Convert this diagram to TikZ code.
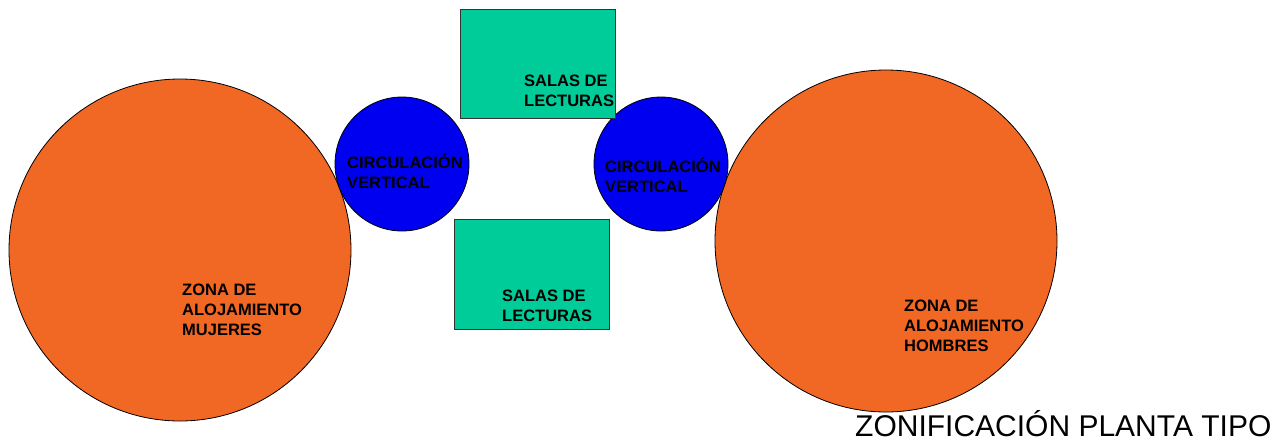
\documentclass[tikz,border=0pt]{standalone}
\usepackage{fontspec}
\setmainfont{Liberation Sans}
\definecolor{zonaorange}{RGB}{241,103,36}
\definecolor{circblue}{RGB}{0,0,240}
\definecolor{salagreen}{RGB}{0,204,153}
\begin{document}
\begin{tikzpicture}[x=1pt,y=-1pt,
  zona/.style={circle,draw=black,line width=0.8pt,fill=zonaorange,minimum size=342pt,inner sep=0pt},
  circ/.style={circle,draw=black,line width=0.8pt,fill=circblue,minimum size=134pt,inner sep=0pt},
  sala/.style={rectangle,draw=black!80,line width=0.8pt,fill=salagreen,inner sep=0pt,anchor=north west},
  lbl/.style={anchor=west,align=left,inner sep=0pt,font=\fontsize{16.5}{20}\selectfont\bfseries}]
\useasboundingbox (0,0) rectangle (1287,440);
% zones
\node[zona] (zm) at (180,250) {};
\node[zona] (zh) at (886,241) {};
% circulation
\node[circ] (cl) at (402,164) {};
\node[circ] (cr) at (661,164) {};
% reading rooms
\node[sala,minimum width=155pt,minimum height=109pt] (st) at (460,9) {};
\node[sala,minimum width=155pt,minimum height=110pt] (sb) at (454,219) {};
% labels
\node[lbl] (tzm) at (182,310) {ZONA DE\\ALOJAMIENTO\\MUJERES};
\node[lbl] (tzh) at (904,326) {ZONA DE\\ALOJAMIENTO\\HOMBRES};
\node[lbl] (tcl) at (347,171) {CIRCULACIÓN\\VERTICAL};
\node[lbl] (tcr) at (605,175) {CIRCULACIÓN\\VERTICAL};
\node[lbl] (tst) at (524,91) {SALAS DE\\LECTURAS};
\node[lbl] (tsb) at (502,306) {SALAS DE\\LECTURAS};
\node[anchor=west,inner sep=0pt,font=\fontsize{30}{36}\selectfont] (title) at (855,424) {ZONIFICACIÓN PLANTA TIPO};
\end{tikzpicture}
\end{document}
